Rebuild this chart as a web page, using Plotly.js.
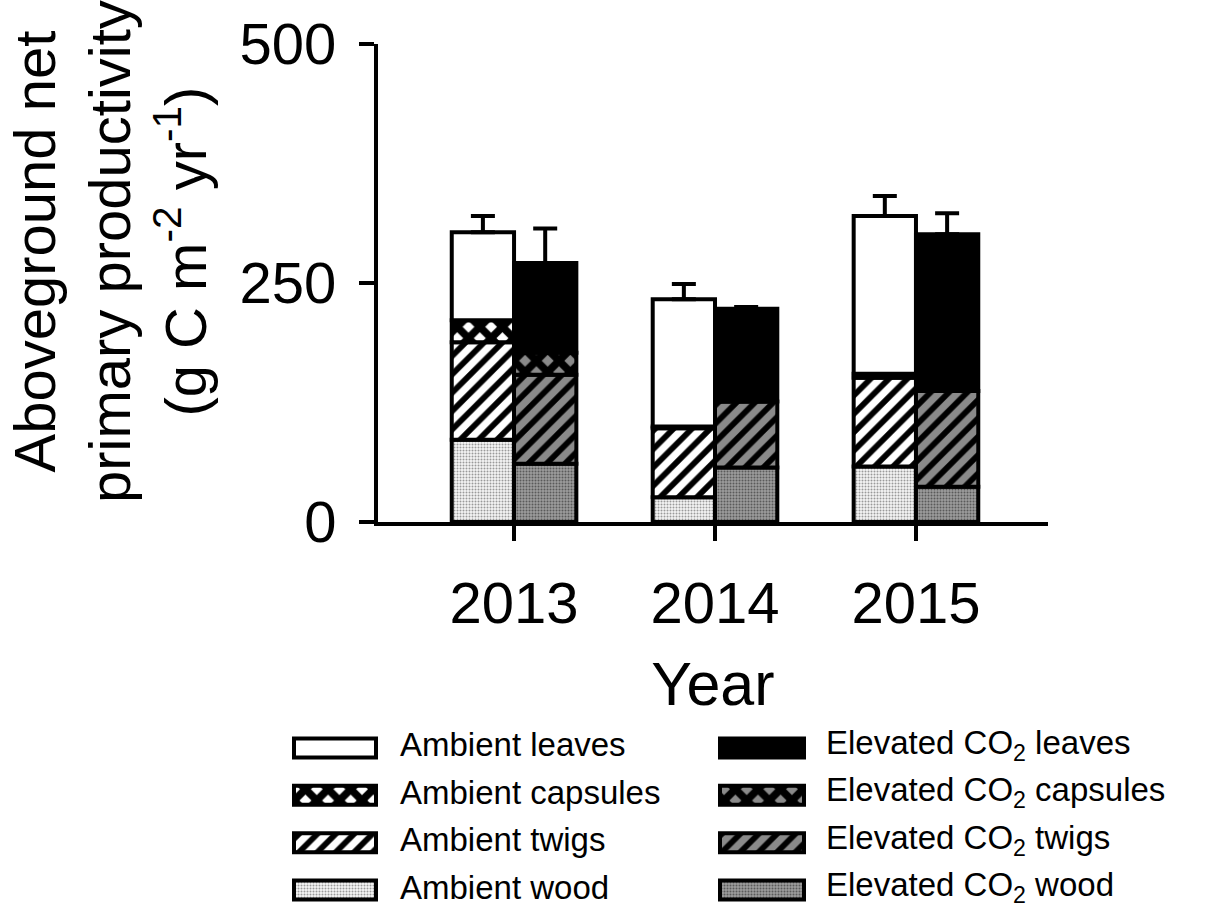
<!DOCTYPE html>
<html>
<head>
<meta charset="utf-8">
<script src="https://cdn.plot.ly/plotly-3.0.1.min.js"></script>
<style>
  html, body { margin: 0; padding: 0; background: #fff; }
  #chart { width: 1205px; height: 910px; }
</style>
</head>
<body>
<div id="chart"></div>
<script>
// ---------------- data ----------------
const years = [2013, 2014, 2015];
const yearLabels = ['2013', '2014', '2015'];
const yTickVals = [0, 250, 500];
const yTickText = ['0', '250', '500'];

const ambientWood      = [86, 26, 58];
const ambientTwigs     = [102, 72, 93];
const ambientCapsules  = [23, 2, 4];
const ambientLeaves    = [92, 133, 165];
const ambientLeavesErr = [17, 16, 21];

const elevatedWood      = [61, 57, 37];
const elevatedTwigs     = [93, 69, 100];
const elevatedCapsules  = [23, 0, 0];
const elevatedLeaves    = [94, 97, 164];
const elevatedLeavesErr = [36, 2, 22];

const componentNames = ['leaves', 'capsules', 'twigs', 'wood'];
const ambientLabels  = ['Ambient leaves', 'Ambient capsules', 'Ambient twigs', 'Ambient wood'];
const elevatedLabels = ['Elevated CO<sub>2</sub> leaves', 'Elevated CO<sub>2</sub> capsules',
                        'Elevated CO<sub>2</sub> twigs', 'Elevated CO<sub>2</sub> wood'];
const xTitle = 'Year';
const yTitle = 'Aboveground net<br>primary productivity<br>(g C m<sup>-2</sup> yr<sup>-1</sup>)';

// ---------------- styles ----------------
const FONT = 'Arial, "Liberation Sans", Helvetica, sans-serif';
const LINE = { color: '#000', width: 4 };
const styles = {
  ambient: {
    leaves:   { color: '#ffffff', pattern: { shape: '' } },
    capsules: { color: '#ffffff', pattern: { shape: 'x', fgcolor: '#000', bgcolor: '#fff', size: 16, solidity: 0.72, fillmode: 'replace' } },
    twigs:    { color: '#ffffff', pattern: { shape: '/', fgcolor: '#000', bgcolor: '#fff', size: 13, solidity: 0.45, fillmode: 'replace' } },
    wood:     { color: '#f2f2f2', pattern: { shape: '.', fgcolor: '#9a9a9a', bgcolor: '#f6f6f6', size: 3, solidity: 0.35, fillmode: 'replace' } }
  },
  elevated: {
    leaves:   { color: '#000000', pattern: { shape: '' } },
    capsules: { color: '#808080', pattern: { shape: 'x', fgcolor: '#000', bgcolor: '#8a8a8a', size: 16, solidity: 0.72, fillmode: 'replace' } },
    twigs:    { color: '#808080', pattern: { shape: '/', fgcolor: '#000', bgcolor: '#8a8a8a', size: 13, solidity: 0.45, fillmode: 'replace' } },
    wood:     { color: '#8c8c8c', pattern: { shape: '.', fgcolor: '#5a5a5a', bgcolor: '#9c9c9c', size: 3, solidity: 0.35, fillmode: 'replace' } }
  }
};

// ---------------- geometry (layout only) ----------------
const BAR_W = 0.31;               // width of one bar in year units
const groupOffset = { ambient: -BAR_W / 2, elevated: BAR_W / 2 };

// ---------------- build stacked traces ----------------
function stackTraces(group, wood, twigs, caps, leaves, leavesErr) {
  const order = [['wood', wood], ['twigs', twigs], ['capsules', caps], ['leaves', leaves]];
  const base = years.map(() => 0);
  const traces = [];
  order.forEach(([name, vals]) => {
    const st = styles[group][name];
    const t = {
      type: 'bar',
      name: group + ' ' + name,
      x: years.map(y => y + groupOffset[group]),
      y: vals.slice(),
      base: base.slice(),
      width: BAR_W,
      marker: { color: st.color, pattern: st.pattern, line: LINE },
      showlegend: false,
      hoverinfo: 'skip',
      xaxis: 'x', yaxis: 'y'
    };
    if (name === 'leaves') {
      t.error_y = { type: 'data', symmetric: false, array: leavesErr, arrayminus: years.map(() => 0),
                    color: '#000', thickness: 4, width: 12 };
    }
    traces.push(t);
    vals.forEach((v, i) => { base[i] += v; });
  });
  return traces;
}

const traces = []
  .concat(stackTraces('ambient', ambientWood, ambientTwigs, ambientCapsules, ambientLeaves, ambientLeavesErr))
  .concat(stackTraces('elevated', elevatedWood, elevatedTwigs, elevatedCapsules, elevatedLeaves, elevatedLeavesErr));

// ---------------- custom legend (swatches as bars on a helper axis) ----------------
const legendCols = { ambient: { x0: 294, len: 82, textX: 398 }, elevated: { x0: 720, len: 84, textX: 824 } };
const W = 1205, H = 910;
const annotations = [];
['ambient', 'elevated'].forEach(group => {
  const labels = group === 'ambient' ? ambientLabels : elevatedLabels;
  componentNames.forEach((name, row) => {
    const st = styles[group][name];
    traces.push({
      type: 'bar', orientation: 'h',
      x: [legendCols[group].len], y: [row], base: [legendCols[group].x0],
      width: 0.4,
      marker: { color: st.color, pattern: st.pattern, line: LINE },
      showlegend: false, hoverinfo: 'skip',
      xaxis: 'x2', yaxis: 'y2'
    });
    annotations.push({
      xref: 'x2', yref: 'y2', x: legendCols[group].textX, y: row, yshift: 3,
      xanchor: 'left', yanchor: 'middle', showarrow: false,
      text: labels[row], font: { family: FONT, size: 33, color: '#000' }
    });
  });
});

// y-axis title (three lines), placed beside the axis
annotations.push({
  xref: 'paper', yref: 'paper', x: 110 / W, y: 1 - 252 / H,
  xanchor: 'center', yanchor: 'middle', textangle: -90, showarrow: false,
  text: yTitle, font: { family: FONT, size: 58, color: '#000' }
});

// ---------------- layout ----------------
const layout = {
  width: W, height: H,
  margin: { l: 0, r: 0, t: 0, b: 0 },
  paper_bgcolor: '#fff', plot_bgcolor: 'rgba(0,0,0,0)',
  barmode: 'overlay',
  showlegend: false,
  font: { family: FONT, color: '#000' },
  xaxis: {
    domain: [378 / W, 1048 / W],
    range: [2012.323, 2015.657],
    tickvals: years, ticktext: yearLabels,
    ticks: 'outside', ticklen: 15, tickwidth: 4, tickcolor: '#000',
    showline: true, linewidth: 4, linecolor: '#000',
    showgrid: false, zeroline: false,
    tickfont: { family: FONT, size: 58, color: '#000' },
    ticklabelstandoff: 12,
    title: { text: xTitle, font: { family: FONT, size: 61, color: '#000' }, standoff: 30 },
    automargin: false, fixedrange: true
  },
  yaxis: {
    domain: [(H - 522) / H, (H - 44) / H],
    range: [0, 500],
    tickvals: yTickVals, ticktext: yTickText,
    ticks: 'outside', ticklen: 15, tickwidth: 4, tickcolor: '#000',
    showline: true, linewidth: 4, linecolor: '#000',
    showgrid: false, zeroline: false,
    tickfont: { family: FONT, size: 58, color: '#000' },
    ticklabelstandoff: 11,
    automargin: false, fixedrange: true
  },
  xaxis2: { domain: [0, 1], range: [0, W], anchor: 'y2', visible: false, fixedrange: true },
  yaxis2: { domain: [0, 200 / H], range: [3.42, -0.80], anchor: 'x2', visible: false, fixedrange: true },
  annotations: annotations
};

Plotly.newPlot('chart', traces, layout, { staticPlot: true, displayModeBar: false });
</script>
</body>
</html>
